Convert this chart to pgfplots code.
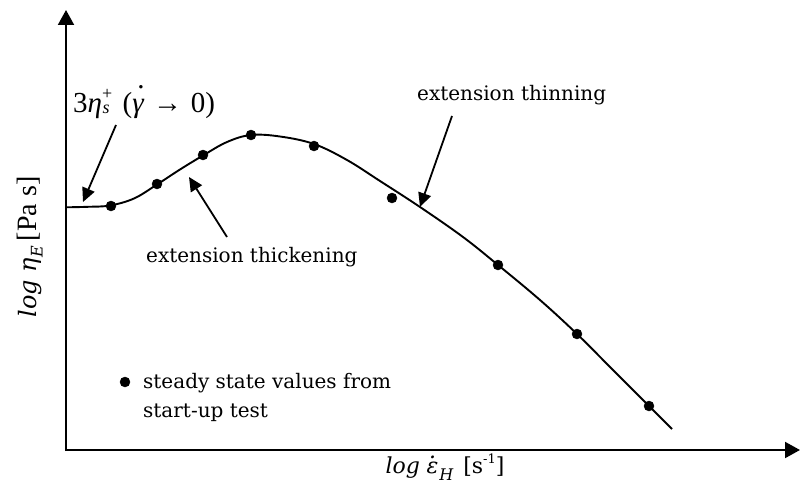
\documentclass[border=0pt]{standalone}
\usepackage{pgfplots}
\pgfplotsset{compat=1.18}
\usetikzlibrary{arrows.meta}
\usepackage{fontspec}
\setmainfont{DejaVu Serif}
\newfontfamily\tnr{Liberation Serif}

\begin{document}
\begin{tikzpicture}
\begin{axis}[
  scale only axis, width=800bp, height=489bp,
  xmin=0, xmax=800, ymin=0, ymax=489, y dir=reverse,
  hide axis, clip=false,
]
% axes
\draw[line width=2bp, -{Triangle[length=15bp,width=16bp]}] (axis cs:66,451) -- (axis cs:66,10);
\draw[line width=2bp, -{Triangle[length=15bp,width=16bp]}] (axis cs:65,450) -- (axis cs:800,450);

% fitted curve
\addplot[black, line width=1.9bp, smooth, tension=0.6] coordinates {
(66,207.3) (88,206.8) (110,205.5) (134,198.5) (157,184.5) (180,169.5) (203,155.5)
(227,142) (251,135) (280,136.5) (314,144) (347,160) (380,181) (420,207)
(463,237) (498,265) (540,300) (577,334) (613,370) (649,406) (672,429)
};

% steady state values
\addplot[black, only marks, mark=*, mark size=5bp] coordinates {
(111,206) (157,184) (203,155) (251,135) (314,146) (392,198) (498,265) (577,334) (649,406)
};

% legend marker
\addplot[black, only marks, mark=*, mark size=5bp] coordinates {(125,382)};
\node[anchor=base west, inner sep=0pt] at (axis cs:143,388)
  {\fontsize{20bp}{29bp}\selectfont steady state values from};
\node[anchor=base west, inner sep=0pt] at (axis cs:143,417)
  {\fontsize{20bp}{29bp}\selectfont start-up test};

% annotations
\draw[line width=1.8bp, -{Triangle[length=14bp,width=13bp]}] (axis cs:116,125) -- (axis cs:83,202);
\draw[line width=1.8bp, -{Triangle[length=14bp,width=13bp]}] (axis cs:227,237) -- (axis cs:189,177);
\draw[line width=1.8bp, -{Triangle[length=14bp,width=13bp]}] (axis cs:452,116) -- (axis cs:420,207);

\node[anchor=base west, inner sep=0pt] at (axis cs:417,100)
  {\fontsize{20bp}{24bp}\selectfont extension thinning};
\node[anchor=base west, inner sep=0pt] at (axis cs:146,262)
  {\fontsize{20bp}{24bp}\selectfont extension thickening};

\node[anchor=base west, inner sep=0pt] at (axis cs:73,112)
  {\tnr\fontsize{29bp}{32bp}\selectfont 3\textit{η}\rlap{\raisebox{0.42em}{\fontsize{18bp}{19bp}\selectfont +}}\hspace{0.02em}\raisebox{-0.06em}{\fontsize{18bp}{19bp}\selectfont\textit{s}}\hspace{0.45em}(\rlap{\hspace{0.17em}\raisebox{0.8em}{.}}\textit{γ}\hspace{0.3em}→\hspace{0.3em}0)};

% axis labels
\node[rotate=90, anchor=center, inner sep=0pt] at (axis cs:30,247)
  {{\fontsize{24bp}{28bp}\selectfont\itshape log η\raisebox{-0.25em}{\fontsize{16bp}{18bp}\selectfont E}}\hspace{0.5em}{\tnr\fontsize{28bp}{30bp}\selectfont [Pa s]}};

\node[anchor=base, inner sep=0pt] at (axis cs:445,473)
  {\fontsize{22bp}{26bp}\selectfont{\itshape log\hspace{0.3em}\rlap{\hspace{0.12em}\raisebox{0.66em}{.}}ε\hspace{0.05em}\raisebox{-0.35em}{\fontsize{16bp}{17bp}\selectfont H}}\hspace{0.45em}[s\raisebox{0.45em}{\fontsize{13bp}{14bp}\selectfont -1}]};
\end{axis}
\pgfresetboundingbox
\path[use as bounding box] (0,0) rectangle (800bp,489bp);
\end{tikzpicture}
\end{document}
